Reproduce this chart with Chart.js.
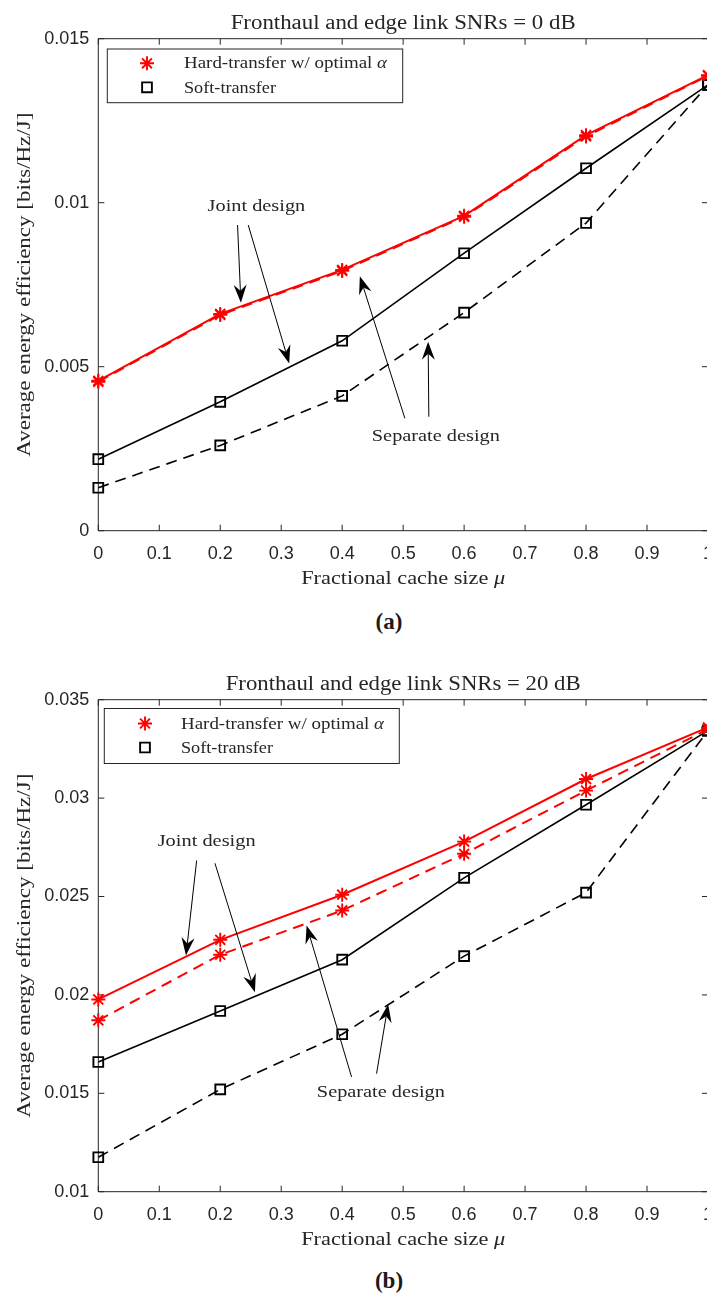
<!DOCTYPE html>
<html><head><meta charset="utf-8">
<script src="https://cdn.jsdelivr.net/npm/chart.js@4.4.0/dist/chart.umd.min.js"></script>
<style>
html,body{margin:0;padding:0;width:707px;height:1298px;overflow:hidden;background:#fff;}
.wrap{position:absolute;left:0;width:726px;height:600px;}
.cap{position:absolute;left:0;width:778px;text-align:center;font:bold 23px "Liberation Serif";color:#1a1a1a;line-height:26px;}
</style></head><body>
<div class="wrap" style="top:0px"><canvas id="ca" width="726" height="600"></canvas></div>
<div class="cap" style="top:609px">(a)</div>
<div class="wrap" style="top:660.8px"><canvas id="cb" width="726" height="600"></canvas></div>
<div class="cap" style="top:1268px">(b)</div>
<script>
// ---------- data ----------
const xValues = [0, 0.2, 0.4, 0.6, 0.8, 1];
const xTicks = [0, 0.1, 0.2, 0.3, 0.4, 0.5, 0.6, 0.7, 0.8, 0.9, 1];
const xTickLabels = ['0', '0.1', '0.2', '0.3', '0.4', '0.5', '0.6', '0.7', '0.8', '0.9', '1'];

const hardJointA = [0.00457, 0.00661, 0.00795, 0.00960, 0.01206, 0.01389];
const hardSepA   = [0.00454, 0.00658, 0.00792, 0.00957, 0.01202, 0.01387];
const softJointA = [0.00218, 0.00393, 0.00579, 0.00846, 0.01105, 0.01359];
const softSepA   = [0.00131, 0.00260, 0.00411, 0.00665, 0.00938, 0.01359];
const yTicksA = [0, 0.005, 0.01, 0.015];
const yTickLabelsA = ['0', '0.005', '0.01', '0.015'];

const hardJointB = [0.01977, 0.02280, 0.02509, 0.02779, 0.03097, 0.03359];
const hardSepB   = [0.01871, 0.02204, 0.02429, 0.02717, 0.03038, 0.03350];
const softJointB = [0.01659, 0.01918, 0.02179, 0.02595, 0.02966, 0.03343];
const softSepB   = [0.01175, 0.01520, 0.01800, 0.02197, 0.02520, 0.03343];
const yTicksB = [0.01, 0.015, 0.02, 0.025, 0.03, 0.035];
const yTickLabelsB = ['0.01', '0.015', '0.02', '0.025', '0.03', '0.035'];

const legendLabels = ['Hard-transfer w/ optimal ', 'Soft-transfer'];
const titleA = 'Fronthaul and edge link SNRs = 0 dB';
const titleB = 'Fronthaul and edge link SNRs = 20 dB';
const yTitle = 'Average energy efficiency [bits/Hz/J]';
const xTitle = 'Fractional cache size ';
const jointText = 'Joint design';
const sepText = 'Separate design';

// annotation anchors in data units
const annotA = {
  joint: {x: 0.2593, y: 0.009732, w: 97.6},
  sep: {x: 0.5536, y: 0.002735, w: 128},
  arrows: [
    [[0.2284, 0.00932], [0.2339, 0.00695]],
    [[0.2459, 0.00932], [0.3131, 0.00510]],
    [[0.5028, 0.003427], [0.4290, 0.00776]],
    [[0.5421, 0.003476], [0.5410, 0.005762]]
  ]
};
const annotB = {
  joint: {x: 0.1777, y: 0.027563, w: 98},
  sep: {x: 0.4634, y: 0.014812, w: 128},
  arrows: [
    [[0.1613, 0.02683], [0.1438, 0.02200]],
    [[0.1913, 0.02669], [0.2569, 0.02014]],
    [[0.4154, 0.01583], [0.3416, 0.02353]],
    [[0.4564, 0.0160], [0.4754, 0.01952]]
  ]
};

// ---------- helpers ----------
const TXT = '#262626';
function drawRich(ctx, segs, x, y, size, targetW, align, rot) {
  ctx.save();
  let w = 0;
  segs.forEach(s => { ctx.font = (s.it ? 'italic ' : '') + size + 'px "Liberation Serif"'; w += ctx.measureText(s.t).width; });
  const sc = targetW ? targetW / w : 1;
  ctx.translate(x, y);
  if (rot) ctx.rotate(rot);
  ctx.scale(sc, 1);
  let cx = align === 'center' ? -w / 2 : (align === 'right' ? -w : 0);
  ctx.textAlign = 'left'; ctx.textBaseline = 'alphabetic'; ctx.fillStyle = TXT;
  segs.forEach(s => {
    ctx.font = (s.it ? 'italic ' : '') + size + 'px "Liberation Serif"';
    ctx.fillText(s.t, cx, 0);
    cx += ctx.measureText(s.t).width;
  });
  ctx.restore();
}
function arrow(ctx, x0, y0, x1, y1) {
  const L = 18, W = 13, N = 6;
  const dx = x1 - x0, dy = y1 - y0, len = Math.hypot(dx, dy);
  const ux = dx / len, uy = dy / len, nx = -uy, ny = ux;
  ctx.save();
  ctx.strokeStyle = '#000'; ctx.lineWidth = 1; ctx.fillStyle = '#000';
  ctx.beginPath(); ctx.moveTo(x0, y0); ctx.lineTo(x1 - ux * (L - N), y1 - uy * (L - N)); ctx.stroke();
  ctx.beginPath();
  ctx.moveTo(x1, y1);
  ctx.lineTo(x1 - ux * L + nx * W / 2, y1 - uy * L + ny * W / 2);
  ctx.lineTo(x1 - ux * (L - N), y1 - uy * (L - N));
  ctx.lineTo(x1 - ux * L - nx * W / 2, y1 - uy * L - ny * W / 2);
  ctx.closePath(); ctx.fill();
  ctx.restore();
}
function ds(ys, color, dashed, style, lw, r) {
  return {
    data: xValues.map((x, i) => ({x: x, y: ys[i]})),
    borderColor: color, backgroundColor: color,
    borderWidth: lw, borderDash: dashed ? [11, 7] : [],
    pointStyle: style, pointRadius: r, pointBorderWidth: 1.9,
    pointBorderColor: color, pointBackgroundColor: 'rgba(0,0,0,0)',
    tension: 0, fill: false, clip: false
  };
}

const framePlugin = {
  id: 'frame',
  beforeDatasetsDraw(chart) {
    const {ctx, chartArea: a, scales: {x, y}} = chart;
    ctx.save();
    ctx.strokeStyle = '#262626'; ctx.lineWidth = 1;
    ctx.beginPath();
    ctx.moveTo(a.left, a.top); ctx.lineTo(a.right, a.top);
    ctx.moveTo(a.left, a.bottom); ctx.lineTo(a.right, a.bottom);
    ctx.moveTo(a.left, a.top); ctx.lineTo(a.left, a.bottom);
    ctx.moveTo(a.right, a.top); ctx.lineTo(a.right, a.bottom);
    const tk = 6;
    xTicks.forEach(v => { const p = x.getPixelForValue(v); ctx.moveTo(p, a.bottom); ctx.lineTo(p, a.bottom - tk); ctx.moveTo(p, a.top); ctx.lineTo(p, a.top + tk); });
    chart.options.custom.yTicks.forEach(v => { const p = y.getPixelForValue(v); ctx.moveTo(a.left, p); ctx.lineTo(a.left + tk, p); ctx.moveTo(a.right, p); ctx.lineTo(a.right - tk, p); });
    ctx.stroke();
    ctx.restore();
  },
  afterDatasetsDraw(chart) {
    const {ctx, chartArea: a, scales: {x, y}} = chart;
    const c = chart.options.custom;
    drawRich(ctx, [{t: c.title}], (a.left + a.right) / 2, a.top - 10, 20, c.titleW, 'center');
    drawRich(ctx, [{t: xTitle}, {t: 'μ', it: true}], (a.left + a.right) / 2, a.bottom + 53.5, 19, 204, 'center');
    drawRich(ctx, [{t: yTitle}], 30, (a.top + a.bottom) / 2, 19, 344, 'center', -Math.PI / 2);
    const L = c.legend;
    const bx = a.left + L.dx, by = a.top + L.dy;
    ctx.save();
    ctx.fillStyle = '#fff'; ctx.fillRect(bx, by, L.w, L.h);
    ctx.strokeStyle = '#262626'; ctx.lineWidth = 1; ctx.strokeRect(bx, by, L.w, L.h);
    const d0 = chart.data.datasets[0], d2 = chart.data.datasets[2];
    [[d0, L.r1, L.b1, [{t: legendLabels[0]}, {t: 'α', it: true}], 203], [d2, L.r2, L.b2, [{t: legendLabels[1]}], 92]].forEach(([d, r, b, segs, w]) => {
      ctx.save();
      ctx.strokeStyle = d.pointBorderColor; ctx.fillStyle = 'rgba(0,0,0,0)'; ctx.lineWidth = d.pointBorderWidth;
      Chart.helpers.drawPoint(ctx, {pointStyle: d.pointStyle, radius: d.pointRadius, rotation: 0, borderWidth: d.pointBorderWidth}, a.left + L.mx, a.top + r);
      ctx.restore();
      drawRich(ctx, segs, a.left + L.tx, a.top + b, 17, w, 'left');
    });
    ctx.restore();
    const an = c.annot;
    drawRich(ctx, [{t: jointText}], x.getPixelForValue(an.joint.x), y.getPixelForValue(an.joint.y), 17.5, an.joint.w, 'center');
    drawRich(ctx, [{t: sepText}], x.getPixelForValue(an.sep.x), y.getPixelForValue(an.sep.y), 17.5, an.sep.w, 'center');
    an.arrows.forEach(([f, t]) => arrow(ctx, x.getPixelForValue(f[0]), y.getPixelForValue(f[1]), x.getPixelForValue(t[0]), y.getPixelForValue(t[1])));
  }
};

function makeChart(id, sets, yTicks, yLabels, title, titleW, legend, annot) {
  return new Chart(document.getElementById(id), {
    type: 'line',
    data: {datasets: [
      ds(sets[0], '#ff0000', false, 'star', 2, 7),
      ds(sets[1], '#ff0000', true, 'star', 2, 7),
      ds(sets[2], '#000000', false, 'rect', 1.6, 6.9),
      ds(sets[3], '#000000', true, 'rect', 1.6, 6.9)
    ]},
    options: {
      responsive: false, animation: false, devicePixelRatio: 1,
      layout: {padding: {left: 0, top: 38.7, right: 0, bottom: 0}},
      plugins: {legend: {display: false}, tooltip: {enabled: false}, title: {display: false}},
      custom: {yTicks: yTicks, title: title, titleW: titleW, legend: legend, annot: annot},
      scales: {
        x: {
          type: 'linear', min: 0, max: 1,
          afterBuildTicks: s => { s.ticks = xTicks.map(v => ({value: v})); },
          afterFit: s => { s.height = 69.3; },
          grid: {display: false, drawTicks: false}, border: {display: false},
          ticks: {callback: v => xTickLabels[xTicks.indexOf(v)], font: {family: 'Liberation Sans', size: 18}, color: TXT, padding: 13, maxRotation: 0, autoSkip: false}
        },
        y: {
          type: 'linear', min: yTicks[0], max: yTicks[yTicks.length - 1],
          afterBuildTicks: s => { s.ticks = yTicks.map(v => ({value: v})); },
          afterFit: s => { s.width = 98.3; },
          grid: {display: false, drawTicks: false}, border: {display: false},
          ticks: {callback: v => yLabels[yTicks.indexOf(v)], font: {family: 'Liberation Sans', size: 18}, color: TXT, padding: 9, autoSkip: false}
        }
      }
    },
    plugins: [framePlugin]
  });
}

makeChart('ca', [hardJointA, hardSepA, softJointA, softSepA], yTicksA, yTickLabelsA, titleA, 345,
  {dx: 9, dy: 10.3, w: 295.4, h: 53.7, mx: 48.7, tx: 85.7, r1: 24.6, r2: 48.6, b1: 29.6, b2: 54.6}, annotA);
makeChart('cb', [hardJointB, hardSepB, softJointB, softSepB], yTicksB, yTickLabelsB, titleB, 355,
  {dx: 6, dy: 8.8, w: 295, h: 55, mx: 46.7, tx: 82.7, r1: 23.8, r2: 47.8, b1: 28.8, b2: 52.8}, annotB);
</script>
</body></html>
